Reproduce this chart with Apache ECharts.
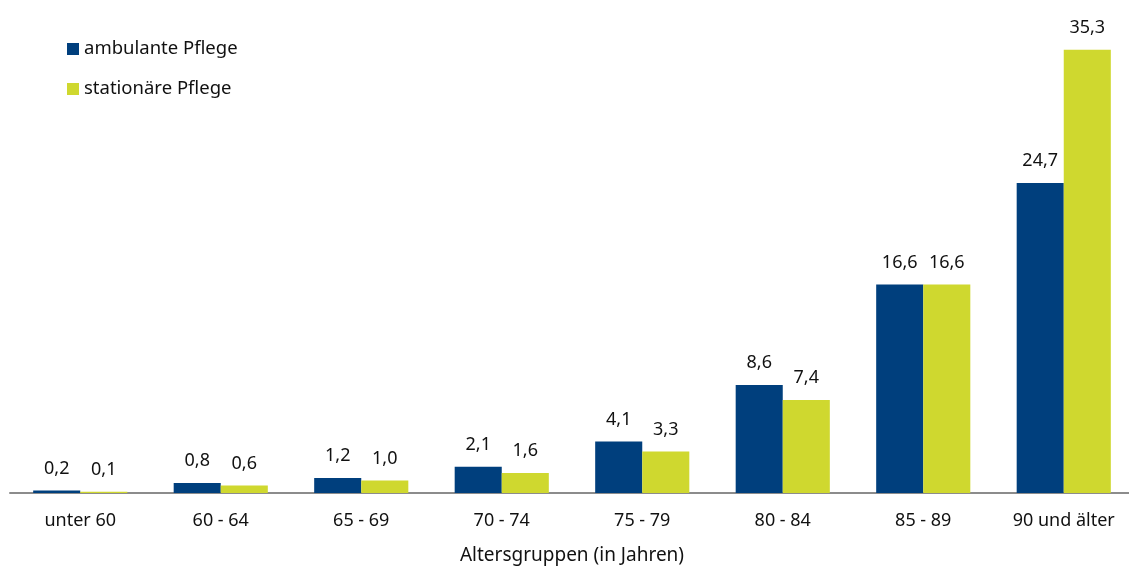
<!DOCTYPE html>
<html><head><meta charset="utf-8">
<script src="https://cdn.jsdelivr.net/npm/echarts@6/dist/echarts.min.js"></script>
<style>html,body{margin:0;padding:0;background:#fff}#c{width:1129px;height:567px}</style>
</head><body><div id="c"></div>
<script>
const categories = ['unter 60','60 - 64','65 - 69','70 - 74','75 - 79','80 - 84','85 - 89','90 und älter'];
const ambulant = [0.2,0.8,1.2,2.1,4.1,8.6,16.6,24.7];
const stationaer = [0.1,0.6,1.0,1.6,3.3,7.4,16.6,35.3];
const seriesNames = ['ambulante Pflege','stationäre Pflege'];
const FONT = 'Noto Sans';
const fmt = p => p.value.toFixed(1).replace('.', ',');
const chart = echarts.init(document.getElementById('c'));
chart.setOption({
  animation:false,
  textStyle:{fontFamily:FONT},
  legend:{orient:'vertical',left:62,top:34,itemWidth:12,itemHeight:12,itemGap:20,icon:'rect',
    textStyle:{fontFamily:FONT,fontSize:18.5,lineHeight:20,color:'#111'},
    data:seriesNames},
  grid:{left:10,right:-5,top:41,bottom:74,outerBoundsMode:'none',containLabel:false},
  xAxis:{type:'category',data:categories,
    axisLine:{lineStyle:{color:'#8c8c8c',width:2}},axisTick:{show:false},
    axisLabel:{fontFamily:FONT,fontSize:18,color:'#111',margin:19},
    name:'Altersgruppen (in Jahren)',nameLocation:'middle',nameGap:53,
    nameTextStyle:{fontFamily:FONT,fontSize:19,color:'#111'}},
  yAxis:{type:'value',min:0,max:36,show:false,splitLine:{show:false}},
  series:[
    {name:seriesNames[0],type:'bar',data:ambulant,barGap:0,barCategoryGap:'33%',
      itemStyle:{color:'#003f7d'},
      label:{show:true,position:'top',distance:13,formatter:fmt,fontFamily:FONT,fontSize:18,color:'#111'}},
    {name:seriesNames[1],type:'bar',data:stationaer,
      itemStyle:{color:'#cfd82f'},
      label:{show:true,position:'top',distance:13,formatter:fmt,fontFamily:FONT,fontSize:18,color:'#111'}}
  ]
});
</script></body></html>
